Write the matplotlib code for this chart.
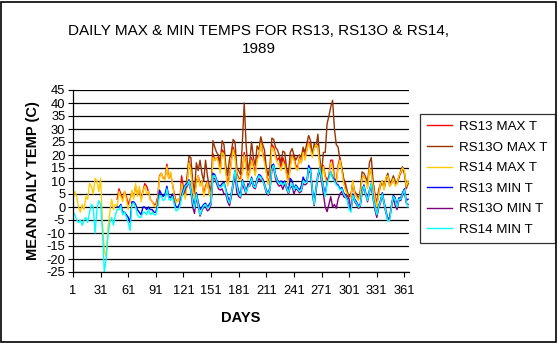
import numpy as np
import matplotlib
matplotlib.use('Agg')
import matplotlib.pyplot as plt
from matplotlib.patches import Rectangle

plt.rcParams['font.family'] = ['Liberation Sans', 'DejaVu Sans']

# every second day of 1989 (1, 3, 5, ... 365)
days = np.arange(1, 366, 2)

rs14_max = [
    3, 6, 4, 0, -2, 1, -1, 4, 3, 9, 8, 5, 11, 10, 6, 11, -6, -17, -19, -8,
    -2, 3, -1, 1, 0, 6, 4, 2, 6, 3, -1,
    2, 6.5, 3, 9, 4, 8, 2, 6, 8, 5, 6, 3, 2, 0.5, 0, 3, 11.5, 13, 11, 10.5,
    15.5, 11, 13.5, 9, 4, 1.5, 3, 1.5, 9, 6.5,
    3, 9, 17, 14, 6.5, 3, 9, 12, 8, 10, 4, 7, 9.5, 5, 3, 19, 18, 19, 17, 13,
    21, 20, 13, 8, 11, 17, 22, 19, 12,
    10.5, 10, 13, 20, 15, 10.5, 13, 18, 15, 12, 18, 19.5, 24.5, 20, 17, 13,
    8.5, 11, 23, 22, 19, 17, 16, 14, 17, 16, 12, 8.5, 15.5, 19.5,
    18, 15, 14, 18.5, 17, 21, 18, 22, 24.5, 22, 19, 22.5, 24, 23, 16, 9.5,
    15.5, 11, 9, 11.5, 17, 15, 10, 9, 15, 18, 14, 9, 6.5, 5,
    3, 4, 10, 5, 4, 2.5, 4.5, 11, 12, 10, 7, 15, 13, 8, 3.5, 0, 4.5, 9, 10,
    6.5, 11.5, 12, 8, 9, 11, 8, 9, 12, 13.5, 15, 14, 8, 10,
]

rs14_min = [
    -2, -3, -5, -6, -5, -7, -5, -4, -6, -2, 1, 0, -10, -1, 2.5, 1, -9, -25,
    -20, -11, -6, -4, -7, -3, -1, -1, 0.5, -3, -2, -4, -6,
    -9, 1, 1.5, 0, -3, -4, -4, -2, -2, -3, -1, -3, -2, -3, -3, 0, 4.5, 4,
    2.5, 3, 7, 3, 2.5, 4, 1, -1.5, -1, 0, 3.8, 6,
    8, 8.5, 10, 6.5, 2, -0.5, 5, 1, -3, -1, 0.5, 1, -0.5, 0, 1.5, 12, 12,
    10, 8, 7.5, 8, 9, 6.5, 3, 1.5, 5, 9, 14, 8,
    5, 4, 10, 8, 5.5, 7.5, 8.5, 11, 8, 7.5, 10.5, 12, 11.5, 10, 8.5, 6, 5,
    7, 14.5, 16, 12, 10, 9, 9.5, 8.5, 9.5, 7.5, 5.5, 8, 9,
    6.5, 8, 7, 6, 6.5, 10, 9.5, 9.5, 15, 14, 6.5, 1, 7, 12, 15, 11, 7.5, 4,
    9, 11, 13.5, 11, 10, 8.5, 8, 6.5, 7, 5, 4, 2.5,
    -1, -2, 4.5, 2.5, 1.5, 0, 0.5, 6, 8, 5, 2.5, 6, 9, 3.5, 0, -3, 0, 2, 5,
    1.5, -2, -5.5, -5, 0.5, 4, 3, 0, 3, 3, 5, 6.5, 2, 0,
]

rs13_max = [None] * 24 + [
    3, 7, 5, 3, 6, 4, 1,
    3, 6, 4, 8, 5, 7, 3, 6, 9, 8, 6, 3, 2, 1, 1, 4, 12, 13, 11, 11, 16.5, 11,
    13, 9, 5, 2, 3, 2, 12, 7,
    4, 10, 17.5, 15, 7, 4, 10, 12, 9, 10, 5, 8, 10, 5, 4, 20.5, 18, 19, 19,
    14, 22, 21, 14, 9, 12, 18, 23, 20, 13,
    11, 11, 14, 21, 16, 11, 14, 19, 16, 13, 19, 20, 25, 21, 18, 14, 9, 12,
    24, 23, 20, 18, 19, 15, 19, 17, 13, 9, 16, 20,
    19, 16, 15, 19, 17, 22, 19, 22, 25, 23, 20, 23, 24, 24, 17, 10, 16, 12,
    10, 12, 18, 18, 11, 10, 16, 19, 15, 10, 7, 5,
    4, 4, 10, 5, 4, 3, 5, 11, 12, 11, 8, 15, 13, 9, 5, 1, 6.5, 9, 10, 7, 11,
    12, 8, 9, 11, 9, 9, 12, 13, 15, 13, 9, 9,
]

rs13_min = [None] * 24 + [
    0, 0, 1, -2, -2, -3, -4,
    -6, 2, 2, 1, -1, -2, -3, 0, 0, -1, 0, -1, -1, -2, -2, 1, 6.5, 5, 4, 5,
    8, 4, 3.5, 5, 2, 0, 0, 1.5, 4.5, 7,
    8.5, 9, 10.5, 7, 3, 0.5, 5.5, 2, -1, 0, 1, 1.5, 0, 1, 2, 13, 12.5, 10.5,
    8.5, 8, 9, 9.5, 7, 4, 2, 5.5, 9.5, 14, 9,
    6, 5, 10.5, 8.5, 6, 8, 9, 11.5, 8.5, 8, 11, 12.5, 12, 10.5, 9, 6.5, 5.5,
    7.5, 16, 16.5, 12.5, 10.5, 9.5, 10, 9, 10, 8, 6, 11, 10,
    7, 8.5, 7.5, 6.5, 8, 11.5, 10, 10, 16, 14.5, 7, 2, 7.5, 12.5, 15, 11.5,
    8, 5, 9.5, 11.5, 13.5, 11.5, 10.5, 9, 8.5, 7, 7.5, 5.5, 4.5, 3,
    0, -1, 5, 3, 2, 0.5, 1, 6.5, 8.5, 5.5, 3, 6.5, 9, 4, 0.5, -3.5, 0.5, 2.5,
    5.5, 2, -1.5, -4.5, -4, 1, 4.5, 3.5, 0.5, 3.5, 3.5, 5.5, 7, 2.5, 3,
]

rs13o_max = [None] * 60 + [
    8, 6, 12, 19.5, 19, 10, 6, 17, 14, 18, 13, 10, 18, 12, 8, 6, 25.5, 23,
    21, 20, 17, 25.5, 24, 16, 12, 18.5, 21, 26, 25, 15,
    14, 12.5, 25, 40, 24.5, 14, 17.5, 25, 19, 16, 23.5, 22, 27, 24, 22, 15,
    12, 16, 26.5, 26, 23, 22, 20, 17, 21.5, 21, 15, 12.5, 21, 22.5,
    20, 18, 19.5, 20, 19, 23, 21, 24.5, 27.5, 25.5, 20, 24.5, 23, 28, 19,
    13, 21, 21, 32, 35, 38.5, 41, 30, 24, 23, 18, 15, 11, 9, 6,
    4, 5, 9, 6, 5, 3, 6, 13.5, 13, 11.5, 9, 17, 19, 10, 4, 1, 5, 8, 10, 7,
    11, 13, 9, 10, 12, 10, 9, 11, 14, 15.5, 13, 7, 9,
]

rs13o_min = [None] * 60 + [
    5, 7, 8, 9.5, 6, 0, -2.5, 4, 0.5, -3.5, -1.5, 0, 0, -1.5, -1, 1, 11, 11,
    9, 7, 6.5, 7, 5, 5, 2, 0.5, 4, 8, 12.5, 5.5,
    4, 3.5, 9, 7, 5, 9, 8, 10, 7.5, 7, 9.5, 11, 10, 11, 8, 5.5, 4.5, 6.5,
    14, 15, 11, 9, 8, 8.5, 6.8, 9, 7, 5, 7.5, 8,
    5, 7, 6.5, 5.5, 6, 9, 8.5, 9, 14, 13, 5, 0.5, 6, 11.5, 14, 10, 5, 0,
    -1.8, 1, 4, 0, 1, -0.5, 3, 5, 6, 4, 3.5, 4.5,
    3, -1, 4, 2, 1, -0.5, 0, 5.5, 7.5, 4.5, 2, 5.5, 8.5, 3, -1, -4, -0.5,
    1.5, 4.5, 1, -2.5, -5, -4.5, 0, 3.5, 0.5, -1, 2.5, 2.5, 4.5, 6, 1.5, 1,
]

series = [
    ("RS13 MAX T", rs13_max, "#FF0000"),
    ("RS13O MAX T", rs13o_max, "#993300"),
    ("RS14 MAX T", rs14_max, "#FFCC00"),
    ("RS13 MIN T", rs13_min, "#0000FF"),
    ("RS13O MIN T", rs13o_min, "#800080"),
    ("RS14 MIN T", rs14_min, "#00FFFF"),
]

tick_days = [1, 31, 61, 91, 121, 151, 181, 211, 241, 271, 301, 331, 361]
y_ticks = list(range(-25, 50, 5))

W, H = 558, 344
fig = plt.figure(figsize=(W / 100, H / 100), dpi=100)
fig.patch.set_facecolor('white')
fig.patches.append(Rectangle((0.5 / W, 2.5 / H), 555 / W, 340 / H,
                             transform=fig.transFigure, fill=False,
                             edgecolor='black', linewidth=1.2))

ax = fig.add_axes([73 / W, 1 - 272 / H, 336 / W, 182 / H])

for name, vals, col in series:
    ax.plot(days, np.array(vals, dtype=float), color=col, lw=1.0, label=name)

ax.set_xlim(1, 366)
ax.set_ylim(-25, 45)
ax.set_xticks(tick_days)
ax.set_xticklabels([str(d) for d in tick_days], fontsize=9.3)
ax.set_yticks(y_ticks)
ax.set_yticklabels([str(v) for v in y_ticks], fontsize=9.3)
ax.tick_params(direction='out', length=3.5, width=0.8, color='black', pad=2)
ax.tick_params(axis='x', pad=6)
ax.yaxis.grid(True, color='black', lw=0.9)
ax.set_axisbelow(True)
for s in ('top', 'right'):
    ax.spines[s].set_visible(False)
for s in ('left', 'bottom'):
    ax.spines[s].set_linewidth(0.9)

ax.set_xlabel('DAYS', fontsize=10.5, fontweight='bold', labelpad=10)
ax.set_ylabel('MEAN DAILY TEMP (C)', fontsize=10.5, fontweight='bold', labelpad=5)

fig.text(259 / W, 1 - 40 / H, 'DAILY MAX & MIN TEMPS FOR RS13, RS13O & RS14,\n1989',
         ha='center', va='center', fontsize=11, linespacing=1.35)

leg = fig.legend(loc='upper left', bbox_to_anchor=(420 / W, 1 - 114 / H),
                 fontsize=9.6, frameon=True, fancybox=False, edgecolor='black',
                 handlelength=1.9, handletextpad=0.55, labelspacing=0.62,
                 borderpad=0.5, borderaxespad=0)
leg.get_frame().set_linewidth(0.9)

fig.savefig('out.png', dpi=100)
